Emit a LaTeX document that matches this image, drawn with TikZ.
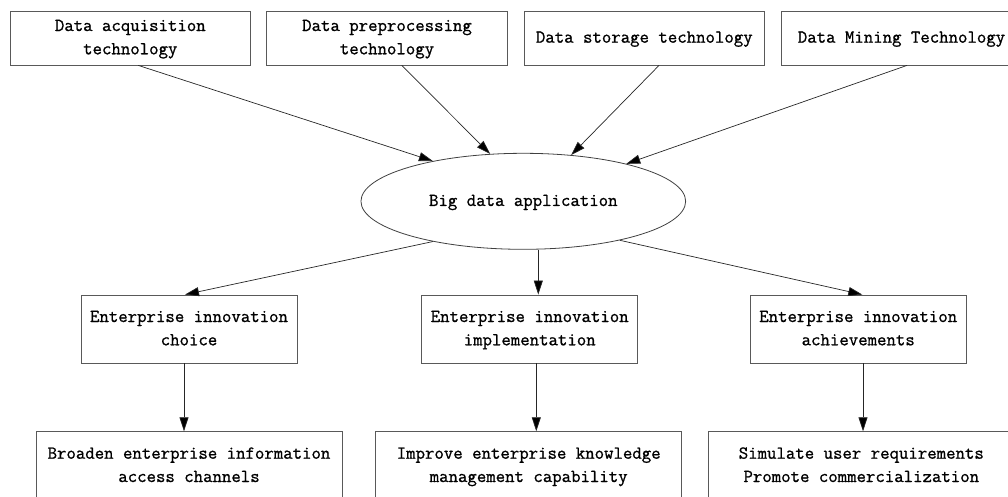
\documentclass[tikz,border=0pt]{standalone}
\usepackage{fontspec}
\setmonofont{Latin Modern Mono}[FakeBold=1.0]
\usetikzlibrary{shapes.geometric,arrows.meta}
\begin{document}
\begin{tikzpicture}[x=1pt,y=-1pt,
  every node/.style={font=\ttfamily\fontsize{18.3pt}{23.3pt}\selectfont, align=center, inner sep=0pt},
  techbox/.style={draw=black!65, line width=0.8pt, rectangle, minimum width=240.5pt, minimum height=54pt},
  stagebox/.style={draw=black!65, line width=0.8pt, rectangle, minimum width=216pt, minimum height=68pt},
  effectbox/.style={draw=black!65, line width=0.8pt, rectangle, minimum width=306pt, minimum height=68pt},
  hub/.style={draw=black!75, line width=0.8pt, ellipse, minimum width=324.7pt, minimum height=96pt},
  flow/.style={draw=black!85, line width=0.7pt, -{Triangle[length=14pt,width=9pt,fill=black]}}
]
\useasboundingbox (0,0) rectangle (1008,496);

% technologies feeding the application
\node[techbox] (t1) at (130.3,38) {\strut Data acquisition\\\strut technology};
\node[techbox] (t2) at (387,38) {\strut Data preprocessing\\\strut technology};
\node[techbox] (t3) at (644.3,38) {\strut Data storage technology};
\node[techbox] (t4) at (901.5,38) {\strut Data Mining Technology};

% central application
\node[hub] (e) at (523.3,201.3) {\strut Big data application};

% innovation stages
\node[stagebox] (m1) at (189,329) {\strut Enterprise innovation\\\strut choice};
\node[stagebox] (m2) at (529.7,329) {\strut Enterprise innovation\\\strut implementation};
\node[stagebox] (m3) at (858.2,329) {\strut Enterprise innovation\\\strut achievements};

% resulting effects
\node[effectbox] (b1) at (189,465.7) {\strut Broaden enterprise information\\\strut access channels};
\node[effectbox] (b2) at (528.7,465.7) {\strut Improve enterprise knowledge\\\strut management capability};
\node[effectbox] (b3) at (861.3,465.7) {\strut Simulate user requirements\\\strut Promote commercialization};

% connectors into the ellipse
\draw[flow] ([xshift=8pt]t1.south) -- (e.156.6);
\draw[flow] ([xshift=14.7pt]t2.south) -- (e.125);
\draw[flow] ([xshift=14.7pt]t3.south) -- (e.44);
\draw[flow] ([xshift=5.5pt]t4.south) -- (e.20);

% connectors out of the ellipse
\draw[flow] (e.204.3) -- ([xshift=-4pt]m1.north);
\draw[flow] ([xshift=15pt]e.south) -- ([xshift=8.6pt]m2.north);
\draw[flow] (e.338.7) -- ([xshift=4.1pt]m3.north);

% stage to effect
\draw[flow] ([xshift=-5pt]m1.south) -- ([xshift=-5pt]m1.south |- b1.north);
\draw[flow] ([xshift=6.6pt]m2.south) -- ([xshift=6.6pt]m2.south |- b2.north);
\draw[flow] ([xshift=4.8pt]m3.south) -- ([xshift=4.8pt]m3.south |- b3.north);
\end{tikzpicture}
\end{document}
